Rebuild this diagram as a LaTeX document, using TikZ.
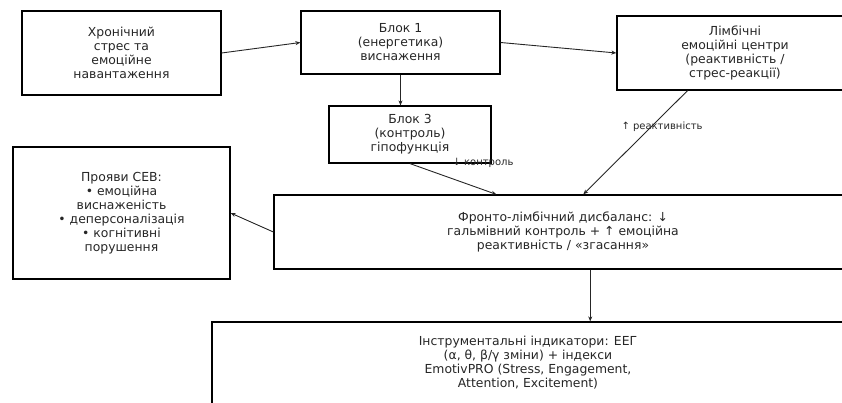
\documentclass[tikz,border=0pt]{standalone}
\usepackage{fontspec}
\setmainfont{DejaVu Sans}
\usetikzlibrary{arrows.meta,calc}
\begin{document}
\begin{tikzpicture}[x=1pt,y=-1pt,
  box/.style={draw, line width=1.2pt, rectangle, align=center, inner sep=2pt,
    font=\fontsize{12.4}{14}\selectfont, text=black!85},
  conn/.style={line width=0.9pt, draw=black!85, -{Stealth[length=5pt,width=4pt]}},
  lbl/.style={font=\fontsize{10}{11}\selectfont, text=black!85, inner sep=0pt}]
\useasboundingbox (0,0) rectangle (842,403);
\clip (0,0) rectangle (842,403);

\node[box, minimum width=199pt, minimum height=84pt] (stress) at (121.5,53)
  {Хронічний\\стрес та\\емоційне\\навантаження};
\node[box, minimum width=199pt, minimum height=63pt] (blk1) at (400.5,42.5)
  {Блок 1\\(енергетика)\\виснаження};
\node[box, minimum width=236pt, minimum height=74pt] (limb) at (735,53)
  {Лімбічні\\емоційні центри\\(реактивність /\\стрес-реакції)};
\node[box, minimum width=162pt, minimum height=57pt] (blk3) at (410,134.5)
  {Блок 3\\(контроль)\\гіпофункція};
\node[box, minimum width=217pt, minimum height=132pt] (sev) at (121.5,213)
  {Прояви СЕВ:\\• емоційна\\виснаженість\\• деперсоналізація\\• когнітивні\\порушення};
\node[box, minimum width=578pt, minimum height=74pt] (fronto) at (563,232)
  {Фронто-лімбічний дисбаланс: ↓\\гальмівний контроль + ↑ емоційна\\реактивність / «згасання»};
\node[box, minimum width=632pt, minimum height=82pt] (eeg) at (528,363)
  {Інструментальні індикатори: ЕЕГ\\(α, θ, β/γ зміни) + індекси\\EmotivPRO (Stress, Engagement,\\Attention, Excitement)};

\coordinate (f3) at ($(fronto.north west)!0.385!(fronto.north east)$);
\coordinate (fl) at ($(fronto.north west)!0.535!(fronto.north east)$);
\coordinate (ls) at ($(limb.south west)!0.3!(limb.south east)$);
\coordinate (fe) at ($(fronto.south west)!0.547!(fronto.south east)$);

\draw[conn] (stress.east) -- (blk1.west);
\draw[conn] (blk1.east) -- (limb.west);
\draw[conn] (blk1.south) -- (blk1.south |- blk3.north);
\draw[conn] (blk3.south) -- (f3);
\draw[conn] (ls) -- (fl);
\draw[conn] (fronto.west) -- (sev.east);
\draw[conn] (fe) -- (fe |- eeg.north);

\node[lbl] (lk) at (483,163) {↓ контроль};
\node[lbl] (lr) at (662,127) {↑ реактивність};
\end{tikzpicture}
\end{document}
